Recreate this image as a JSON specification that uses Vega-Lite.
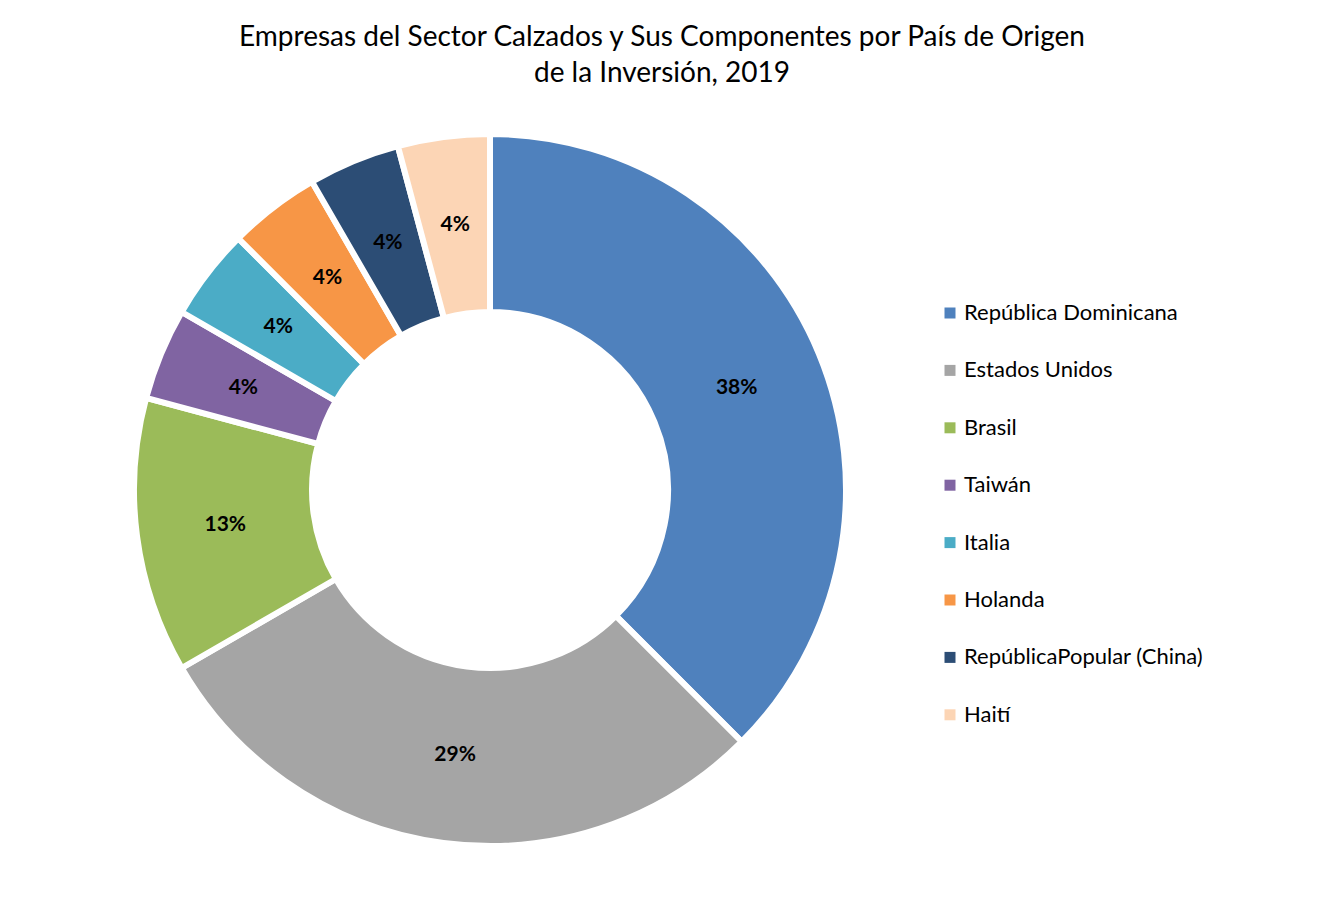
{
  "$schema": "https://vega.github.io/schema/vega-lite/v6.json",
  "autosize": "none",
  "width": 780,
  "height": 780,
  "padding": {"left": 100, "top": 100, "right": 440, "bottom": 17},
  "background": "white",
  "config": {"view": {"stroke": null}, "font": "Lato"},
  "title": {
    "text": ["Empresas del Sector Calzados y Sus Componentes por País de Origen", "de la Inversión, 2019"],
    "anchor": "middle",
    "frame": "group",
    "dx": 172,
    "offset": 12,
    "limit": 1200,
    "font": "Lato",
    "fontSize": 28,
    "fontWeight": "normal",
    "color": "#000000",
    "lineHeight": 36
  },
  "data": {
    "values": [
      {"pais": "República Dominicana", "empresas": 9, "orden": 1, "etiqueta": "38%"},
      {"pais": "Estados Unidos", "empresas": 7, "orden": 2, "etiqueta": "29%"},
      {"pais": "Brasil", "empresas": 3, "orden": 3, "etiqueta": "13%"},
      {"pais": "Taiwán", "empresas": 1, "orden": 4, "etiqueta": "4%"},
      {"pais": "Italia", "empresas": 1, "orden": 5, "etiqueta": "4%"},
      {"pais": "Holanda", "empresas": 1, "orden": 6, "etiqueta": "4%"},
      {"pais": "RepúblicaPopular (China)", "empresas": 1, "orden": 7, "etiqueta": "4%"},
      {"pais": "Haití", "empresas": 1, "orden": 8, "etiqueta": "4%"}
    ]
  },
  "encoding": {
    "theta": {"field": "empresas", "type": "quantitative", "stack": true},
    "order": {"field": "orden", "type": "quantitative"}
  },
  "layer": [
    {
      "mark": {"type": "arc", "outerRadius": 356, "innerRadius": 178, "stroke": "white", "strokeWidth": 6},
      "encoding": {
        "color": {
          "field": "pais",
          "type": "nominal",
          "scale": {
            "domain": ["República Dominicana", "Estados Unidos", "Brasil", "Taiwán", "Italia", "Holanda", "RepúblicaPopular (China)", "Haití"],
            "range": ["#4F81BD", "#A5A5A5", "#9BBB59", "#8064A2", "#4BACC6", "#F79646", "#2C4D75", "#FCD5B5"]
          },
          "legend": {
            "title": null,
            "orient": "none",
            "legendX": 839,
            "legendY": 202,
            "padding": 0,
            "symbolType": "square",
            "symbolSize": 121,
            "symbolStrokeWidth": 0,
            "labelFont": "Lato",
            "labelFontSize": 22,
            "labelColor": "#000000",
            "labelOffset": 3,
            "rowPadding": 35.4,
            "labelLimit": 400
          }
        }
      }
    },
    {
      "mark": {"type": "text", "radius": 267, "font": "Lato", "fontSize": 21, "fontWeight": "bold", "color": "#000000"},
      "encoding": {
        "text": {"field": "etiqueta", "type": "nominal"}
      }
    }
  ]
}
